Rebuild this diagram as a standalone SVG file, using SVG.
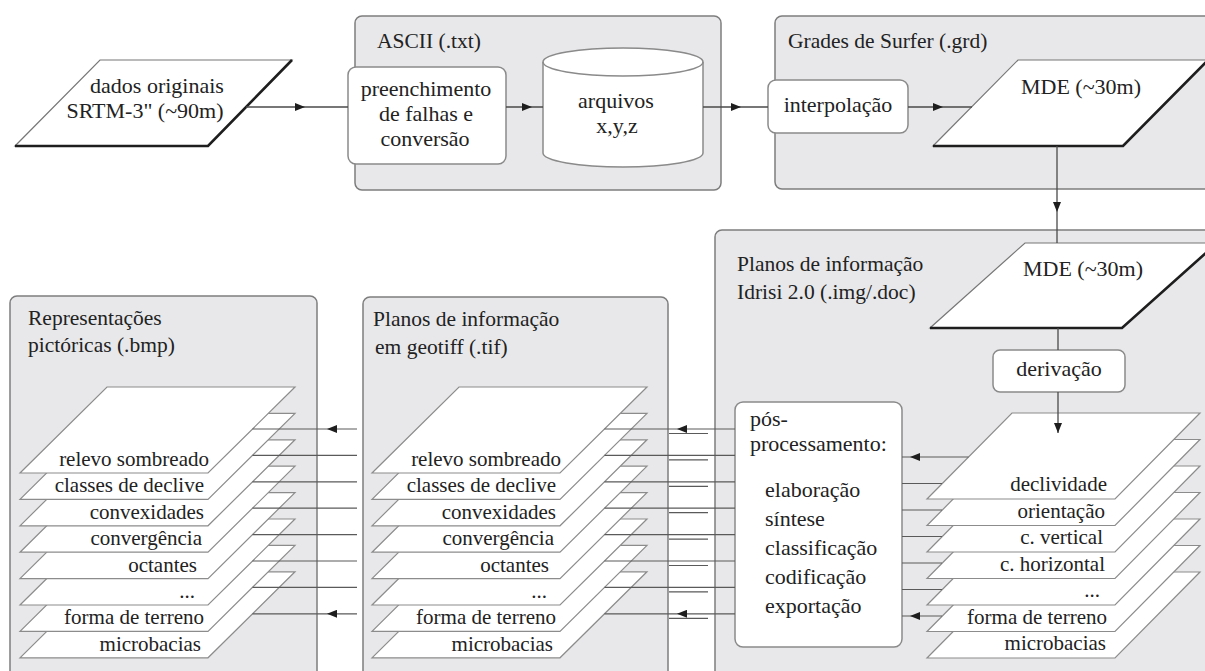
<svg xmlns="http://www.w3.org/2000/svg" width="1205" height="671" viewBox="0 0 1205 671">
<style>
.grp{fill:#e8e8ea;stroke:#7d7d7d;stroke-width:1.5}
.node{fill:#fff;stroke:#8a8a8a;stroke-width:1.5}
.layer{fill:#fff;stroke:#8c8c8c;stroke-width:1.2}
.shadow{fill:none;stroke:#1e1e1e;stroke-width:2.6}
text{font-family:"Times New Roman","Liberation Serif",Tinos,"Noto Serif","DejaVu Serif",FreeSerif,Times,serif;fill:#222}
.ti{font-size:21.5px}
.nd{font-size:22px}
.ly{font-size:21px;text-anchor:end}
.mid{text-anchor:middle}
.c{fill:none;stroke:#4a4a4a;stroke-width:1.3}
.cl{fill:none;stroke:#5a5a5a;stroke-width:1.2}
</style>
<defs>
<marker id="ah" viewBox="0 0 10 8" refX="10" refY="4" markerWidth="10" markerHeight="8" markerUnits="userSpaceOnUse" orient="auto">
<path d="M0,0 L10,4 L0,8 Z" fill="#1e1e1e"/>
</marker>
</defs>

<g id="grp-ascii">
<rect class="grp" x="355" y="16" width="366" height="174" rx="7"/>
<text class="ti" x="377" y="48">ASCII (.txt)</text>
</g>
<g id="grp-surfer">
<rect class="grp" x="775" y="16" width="450" height="173" rx="7"/>
<text class="ti" x="788" y="48">Grades de Surfer (.grd)</text>
</g>
<g id="grp-idrisi">
<rect class="grp" x="715" y="230" width="510" height="470" rx="7"/>
<text class="ti" x="737" y="271">Planos de informação</text>
<text class="ti" x="737" y="299">Idrisi 2.0 (.img/.doc)</text>
</g>
<g id="grp-bmp">
<rect class="grp" x="10" y="296" width="307" height="400" rx="7"/>
<text class="ti" x="28" y="325">Representações</text>
<text class="ti" x="28" y="352">pictóricas (.bmp)</text>
</g>
<g id="grp-tif">
<rect class="grp" x="363" y="297" width="305" height="400" rx="7"/>
<text class="ti" x="373" y="326">Planos de informação</text>
<text class="ti" x="375" y="354">em geotiff (.tif)</text>
</g>

<g id="dados">
<polygon class="layer" points="100,60 292,60 208,146 15,146" style="stroke:#777"/>
<polyline class="shadow" points="15,146 208,146 292,60"/>
<text class="nd mid" x="157" y="93">dados originais</text>
<text class="nd mid" x="145" y="118">SRTM-3" (~90m)</text>
</g>
<g id="preenchimento">
<rect class="node" x="348" y="67" width="158" height="97" rx="8"/>
<text class="nd mid" x="426" y="96">preenchimento</text>
<text class="nd mid" x="426" y="121">de falhas e</text>
<text class="nd mid" x="425" y="146">conversão</text>
</g>
<g id="arquivos">
<path class="node" d="M543,62 A80,14 0 0 1 703,62 V153 A80,14 0 0 1 543,153 Z"/>
<path class="node" d="M543,62 A80,14 0 0 0 703,62" style="fill:none"/>
<text class="nd mid" x="616" y="108">arquivos</text>
<text class="nd mid" x="617" y="133">x,y,z</text>
</g>
<g id="interpolacao">
<rect class="node" x="768" y="80" width="140" height="53" rx="8"/>
<text class="nd mid" x="838" y="112">interpolação</text>
</g>
<g id="mde1">
<polygon class="layer" points="1018,60 1208,60 1123,146 933,146" style="stroke:#777"/>
<polyline class="shadow" points="933,146 1123,146 1208,60"/>
<text class="nd mid" x="1081" y="94">MDE (~30m)</text>
</g>
<g id="mde2">
<polygon class="layer" points="1025,243 1217,243 1122,328 930,328" style="stroke:#777"/>
<polyline class="shadow" points="930,328 1122,328 1217,243"/>
<text class="nd mid" x="1083" y="276">MDE (~30m)</text>
</g>
<g id="derivacao">
<rect class="node" x="993" y="350" width="132" height="42" rx="7"/>
<text class="nd mid" x="1059" y="376">derivação</text>
</g>
<g id="pos">
<rect class="node" x="735" y="402" width="167" height="245" rx="8"/>
<text class="nd" x="750" y="426">pós-</text>
<text class="nd" x="750" y="451">processamento:</text>
<text class="nd" x="765" y="497">elaboração</text>
<text class="nd" x="765" y="526">síntese</text>
<text class="nd" x="765" y="555">classificação</text>
<text class="nd" x="765" y="584">codificação</text>
<text class="nd" x="765" y="613">exportação</text>
</g>

<g id="stack-bmp">
<polygon class="layer" points="107,571.8 295,571.8 208,657.8 20,657.8"/>
<text class="ly" x="201" y="650.8">microbacias</text>
<polygon class="layer" points="107,545.4 295,545.4 208,631.4 20,631.4"/>
<text class="ly" x="204" y="624.4">forma de terreno</text>
<polygon class="layer" points="107,519 295,519 208,605 20,605"/>
<text class="ly" x="195" y="598">...</text>
<polygon class="layer" points="107,492.6 295,492.6 208,578.6 20,578.6"/>
<text class="ly" x="197" y="571.6">octantes</text>
<polygon class="layer" points="107,466.2 295,466.2 208,552.2 20,552.2"/>
<text class="ly" x="202" y="545.2">convergência</text>
<polygon class="layer" points="107,439.8 295,439.8 208,525.8 20,525.8"/>
<text class="ly" x="204" y="518.8">convexidades</text>
<polygon class="layer" points="107,413.4 295,413.4 208,499.4 20,499.4"/>
<text class="ly" x="204" y="492.4">classes de declive</text>
<polygon class="layer" points="107,387 295,387 208,473 20,473"/>
<text class="ly" x="209" y="466">relevo sombreado</text>
</g>

<g id="stack-tif">
<polygon class="layer" points="459,571.8 647,571.8 560,657.8 372,657.8"/>
<text class="ly" x="553" y="650.8">microbacias</text>
<polygon class="layer" points="459,545.4 647,545.4 560,631.4 372,631.4"/>
<text class="ly" x="556" y="624.4">forma de terreno</text>
<polygon class="layer" points="459,519 647,519 560,605 372,605"/>
<text class="ly" x="547" y="598">...</text>
<polygon class="layer" points="459,492.6 647,492.6 560,578.6 372,578.6"/>
<text class="ly" x="549" y="571.6">octantes</text>
<polygon class="layer" points="459,466.2 647,466.2 560,552.2 372,552.2"/>
<text class="ly" x="554" y="545.2">convergência</text>
<polygon class="layer" points="459,439.8 647,439.8 560,525.8 372,525.8"/>
<text class="ly" x="556" y="518.8">convexidades</text>
<polygon class="layer" points="459,413.4 647,413.4 560,499.4 372,499.4"/>
<text class="ly" x="556" y="492.4">classes de declive</text>
<polygon class="layer" points="459,387 647,387 560,473 372,473"/>
<text class="ly" x="561" y="466">relevo sombreado</text>
</g>

<g id="stack-idrisi">
<polygon class="layer" points="1012,572 1200,572 1115,658 927,658"/>
<text class="ly" x="1106" y="650">microbacias</text>
<polygon class="layer" points="1012,545.5 1200,545.5 1115,631.5 927,631.5"/>
<text class="ly" x="1107" y="623.5">forma de terreno</text>
<polygon class="layer" points="1012,519 1200,519 1115,605 927,605"/>
<text class="ly" x="1100" y="597">...</text>
<polygon class="layer" points="1012,492.5 1200,492.5 1115,578.5 927,578.5"/>
<text class="ly" x="1105" y="570.5">c. horizontal</text>
<polygon class="layer" points="1012,466 1200,466 1115,552 927,552"/>
<text class="ly" x="1103" y="544">c. vertical</text>
<polygon class="layer" points="1012,439.5 1200,439.5 1115,525.5 927,525.5"/>
<text class="ly" x="1105" y="517.5">orientação</text>
<polygon class="layer" points="1012,413 1200,413 1115,499 927,499"/>
<text class="ly" x="1107" y="491">declividade</text>
</g>

<g id="connectors">
<path class="c" d="M246,107 L305,107 L348,107" marker-mid="url(#ah)"/>
<path class="c" d="M506,107 L532,107 L543,107" marker-mid="url(#ah)"/>
<path class="c" d="M703,107 L741,107 L768,107" marker-mid="url(#ah)"/>
<path class="c" d="M908,107 L943,107 L972,107" marker-mid="url(#ah)"/>
<path class="c" d="M1057,146 L1057,212 L1057,243" marker-mid="url(#ah)"/>
<path class="c" d="M1058,328 V350"/>
<path class="c" d="M1058,392 L1058,433" marker-end="url(#ah)"/>

<path class="cl" d="M968.5,457 L910,457 L902,457" marker-mid="url(#ah)"/>
<path class="cl" d="M942,483.5 H902"/>
<path class="cl" d="M942,510 H902"/>
<path class="cl" d="M942,536.5 H902"/>
<path class="cl" d="M942,563 H902"/>
<path class="cl" d="M942,589.5 H902"/>
<path class="cl" d="M942,616 L910,616 L902,616" marker-mid="url(#ah)"/>

<path class="cl" d="M735,429 L677,429 L604.5,429" marker-mid="url(#ah)"/>
<path class="cl" d="M735,455.4 H604.5"/>
<path class="cl" d="M735,481.8 H604.5"/>
<path class="cl" d="M735,508.2 H604.5"/>
<path class="cl" d="M735,534.6 H604.5"/>
<path class="cl" d="M735,561 H604.5"/>
<path class="cl" d="M735,587.4 H604.5"/>
<path class="cl" d="M735,613.8 L677,613.8 L604.5,613.8" marker-mid="url(#ah)"/>
<path class="cl" d="M669,433.5 H708 M669,459.9 H708 M669,486.3 H708 M669,512.7 H708 M669,539.1 H708 M669,565.5 H708 M669,591.9 H708 M669,618.3 H708"/>

<path class="cl" d="M357,429 L327,429 L252.5,429" marker-mid="url(#ah)"/>
<path class="cl" d="M357,455.4 H252.5"/>
<path class="cl" d="M357,481.8 H252.5"/>
<path class="cl" d="M357,508.2 H252.5"/>
<path class="cl" d="M357,534.6 H252.5"/>
<path class="cl" d="M357,561 H252.5"/>
<path class="cl" d="M357,587.4 H252.5"/>
<path class="cl" d="M357,613.8 L327,613.8 L252.5,613.8" marker-mid="url(#ah)"/>
</g>
</svg>
